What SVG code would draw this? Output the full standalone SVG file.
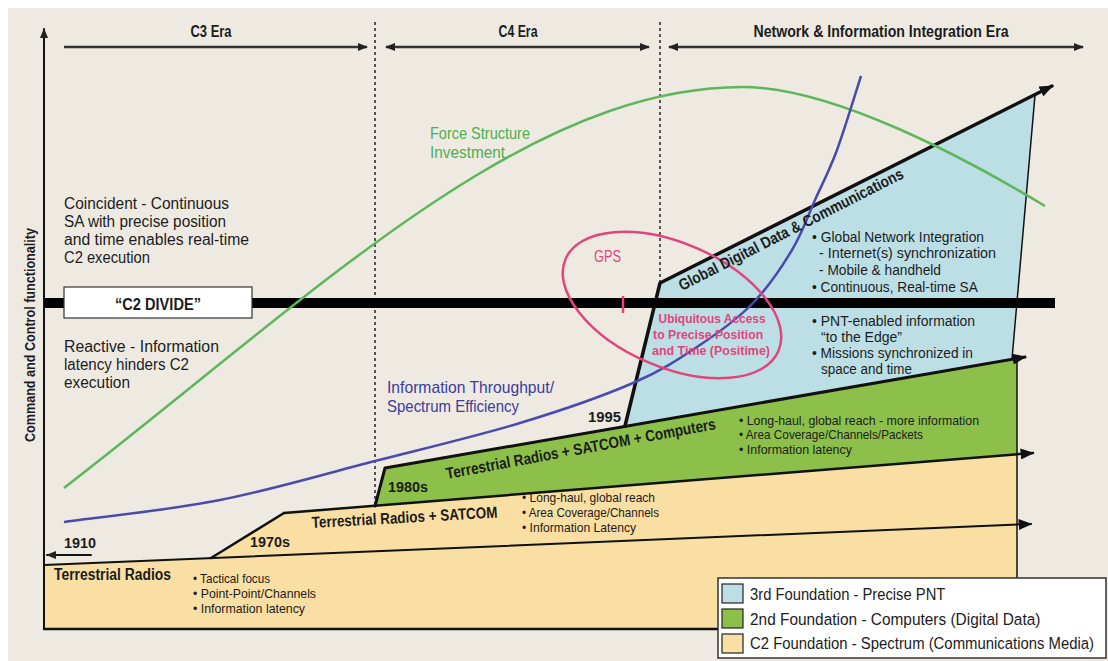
<svg xmlns="http://www.w3.org/2000/svg" width="1108" height="661" viewBox="0 0 1108 661">
<defs>
<style>
.f{font-family:"Liberation Sans Narrow","Liberation Sans","DejaVu Sans",sans-serif;fill:#1c1c1c}
.b{font-weight:bold}
.ln{fill:none;stroke:#111;stroke-linecap:round;stroke-linejoin:round}
.era{fill:none;stroke:#333;stroke-width:2.5}
.dot{fill:none;stroke:#555;stroke-width:2;stroke-dasharray:3 3}
.s13{font-size:13px}
.s16{font-size:16px}
.pink{fill:#e0457b}
</style>
<marker id="ah" viewBox="0 0 10 8" refX="9" refY="4" markerWidth="10" markerHeight="8" markerUnits="userSpaceOnUse" orient="auto-start-reverse"><path d="M0,0 L10,4 L0,8 z" fill="#222"/></marker>
<marker id="ahb" viewBox="0 0 10 8" refX="9" refY="4" markerWidth="14" markerHeight="11" markerUnits="userSpaceOnUse" orient="auto"><path d="M0,0 L10,4 L0,8 z" fill="#111"/></marker>
</defs>
<rect x="0" y="0" width="1108" height="661" fill="#ffffff"/>
<rect x="8" y="8" width="1100" height="653" fill="#eeeae2"/>

<g id="layers">
<polygon points="44,565 211,558 284,513 1017,454 1017,629 44,629" fill="#f9dfa3"/>
<polygon points="375,506 385,468 1017,359 1017,454" fill="#8cc04a"/>
<polygon points="625,426 660,283 1035,95 1012,359" fill="#bcdfe6"/>
</g>

<g id="connectors">
<line class="dot" x1="375" y1="22" x2="375" y2="505"/>
<line class="dot" x1="660" y1="22" x2="660" y2="283"/>
<line class="era" x1="64" y1="47" x2="367" y2="47" marker-end="url(#ah)"/>
<line class="era" x1="386" y1="47" x2="649" y2="47" marker-start="url(#ah)" marker-end="url(#ah)"/>
<line class="era" x1="669" y1="47" x2="1083" y2="47" marker-start="url(#ah)" marker-end="url(#ah)"/>
<line class="ln" x1="44" y1="629" x2="44" y2="29" stroke-width="2" marker-end="url(#ah)"/>
<line class="ln" x1="44" y1="629" x2="1018" y2="629" stroke-width="2.5"/>
<line class="ln" x1="1017" y1="359" x2="1017" y2="629" stroke="#333" stroke-width="1.5"/>
<line class="ln" x1="44" y1="565" x2="1031" y2="524" stroke-width="2" marker-end="url(#ahb)"/>
<line class="ln" x1="211" y1="558" x2="284" y2="513" stroke-width="2.5"/>
<line class="ln" x1="284" y1="513" x2="1033" y2="453" stroke-width="2.5" marker-end="url(#ahb)"/>
<polyline class="ln" points="375,506 385,468 1025,357" stroke-width="3" marker-end="url(#ahb)"/>
<polyline class="ln" points="625,426 660,283 1052,86" stroke-width="3.5" marker-end="url(#ahb)"/>
<line class="ln" x1="1035" y1="95" x2="1012" y2="359" stroke="#333" stroke-width="1.5"/>
<line class="ln" x1="91" y1="555" x2="47" y2="555" stroke-width="2" marker-end="url(#ah)"/>
</g>

<g id="c2-divide">
<line x1="44" y1="303" x2="1055" y2="303" stroke="#000" stroke-width="10"/>
<rect x="64" y="287" width="188" height="31" fill="#fff" stroke="#333" stroke-width="1.2"/>
<text class="f b" x="158" y="310" font-size="16" text-anchor="middle" textLength="86" lengthAdjust="spacingAndGlyphs">“C2 DIVIDE”</text>
</g>

<g id="curves">
<path d="M64,488 C314,295 523,87 743,87 C833,87 965,158 1045,206" fill="none" stroke="#5db75a" stroke-width="2.5"/>
<path d="M64,522 C90,518.3 168.2,510.2 220,500 C271.8,489.8 325,473.8 375,461 C425,448.2 477,436 520,423 C563,410 603,396 633,383 C663,370 680,358.3 700,345 C720,331.7 737.7,318.8 753,303 C768.3,287.2 781.7,267.2 792,250 C802.3,232.8 807.5,216.7 815,200 C822.5,183.3 829.3,170.7 837,150 C844.7,129.3 857,88.3 861,76" fill="none" stroke="#4a4aae" stroke-width="2.5"/>
</g>

<g id="gps">
<ellipse cx="672" cy="305" rx="116" ry="62" transform="rotate(23.4 672 305)" fill="none" stroke="#e0457b" stroke-width="2.5"/>
<line x1="623" y1="296" x2="623" y2="313" stroke="#e0457b" stroke-width="2.5"/>
<text class="f pink" x="594" y="262" font-size="16" textLength="27" lengthAdjust="spacingAndGlyphs">GPS</text>
<text class="f b pink" font-size="13.5" text-anchor="middle">
<tspan x="714" y="323" textLength="107" lengthAdjust="spacingAndGlyphs">Ubiquitous Access</tspan>
<tspan x="710" y="339" textLength="110" lengthAdjust="spacingAndGlyphs">to Precise Position</tspan>
<tspan x="711" y="355" textLength="118" lengthAdjust="spacingAndGlyphs">and Time (Positime)</tspan>
</text>
</g>

<g id="eras">
<text class="f b s16" x="211" y="37" text-anchor="middle" textLength="41" lengthAdjust="spacingAndGlyphs">C3 Era</text>
<text class="f b s16" x="518" y="37" text-anchor="middle" textLength="39" lengthAdjust="spacingAndGlyphs">C4 Era</text>
<text class="f b s16" x="881" y="37" text-anchor="middle" textLength="255" lengthAdjust="spacingAndGlyphs">Network &amp; Information Integration Era</text>
</g>

<g id="axis-label">
<text class="f b" font-size="15" transform="translate(35,335) rotate(-90)" text-anchor="middle" textLength="214" lengthAdjust="spacingAndGlyphs">Command and Control functionality</text>
</g>

<g id="left-notes">
<text class="f s16" x="64" y="209" textLength="165" lengthAdjust="spacingAndGlyphs">Coincident - Continuous</text>
<text class="f s16" x="64" y="227" textLength="162" lengthAdjust="spacingAndGlyphs">SA with precise position</text>
<text class="f s16" x="64" y="245" textLength="185" lengthAdjust="spacingAndGlyphs">and time enables real-time</text>
<text class="f s16" x="64" y="263" textLength="86" lengthAdjust="spacingAndGlyphs">C2 execution</text>
<text class="f s16" x="64" y="352" textLength="155" lengthAdjust="spacingAndGlyphs">Reactive - Information</text>
<text class="f s16" x="64" y="370" textLength="125" lengthAdjust="spacingAndGlyphs">latency hinders C2</text>
<text class="f s16" x="64" y="388" textLength="66" lengthAdjust="spacingAndGlyphs">execution</text>
</g>

<g id="force-structure">
<text class="f" x="430" y="139" font-size="17" style="fill:#4caf50" textLength="100" lengthAdjust="spacingAndGlyphs">Force Structure</text>
<text class="f" x="430" y="158" font-size="17" style="fill:#4caf50" textLength="75" lengthAdjust="spacingAndGlyphs">Investment</text>
</g>

<g id="info-throughput">
<text class="f" x="387" y="393" font-size="17" style="fill:#3c3c9c" textLength="167" lengthAdjust="spacingAndGlyphs">Information Throughput/</text>
<text class="f" x="387" y="412" font-size="17" style="fill:#3c3c9c" textLength="132" lengthAdjust="spacingAndGlyphs">Spectrum Efficiency</text>
</g>

<g id="foundation-c2">
<text class="f b s16" x="54" y="580" textLength="117" lengthAdjust="spacingAndGlyphs">Terrestrial Radios</text>
<text class="f s13" x="193" y="583" textLength="77" lengthAdjust="spacingAndGlyphs">• Tactical focus</text>
<text class="f s13" x="193" y="598" textLength="123" lengthAdjust="spacingAndGlyphs">• Point-Point/Channels</text>
<text class="f s13" x="193" y="613" textLength="112" lengthAdjust="spacingAndGlyphs">• Information latency</text>
<text class="f b" x="64" y="548" font-size="15" textLength="32" lengthAdjust="spacingAndGlyphs">1910</text>
<text class="f b" x="250" y="547" font-size="15" textLength="40" lengthAdjust="spacingAndGlyphs">1970s</text>
<text class="f b s16" transform="translate(312,528) rotate(-3.2)" textLength="186" lengthAdjust="spacingAndGlyphs">Terrestrial Radios + SATCOM</text>
<text class="f s13" x="522" y="502" textLength="133" lengthAdjust="spacingAndGlyphs">• Long-haul, global reach</text>
<text class="f s13" x="522" y="517" textLength="137" lengthAdjust="spacingAndGlyphs">• Area Coverage/Channels</text>
<text class="f s13" x="522" y="532" textLength="114" lengthAdjust="spacingAndGlyphs">• Information Latency</text>
</g>

<g id="foundation-2nd">
<text class="f b" x="388" y="492" font-size="15" textLength="40" lengthAdjust="spacingAndGlyphs">1980s</text>
<text class="f b s16" transform="translate(447,479) rotate(-10.5)" textLength="274" lengthAdjust="spacingAndGlyphs">Terrestrial Radios + SATCOM + Computers</text>
<text class="f s13" x="739" y="425" textLength="240" lengthAdjust="spacingAndGlyphs">• Long-haul, global reach - more information</text>
<text class="f s13" x="739" y="439" textLength="184" lengthAdjust="spacingAndGlyphs">• Area Coverage/Channels/Packets</text>
<text class="f s13" x="739" y="454" textLength="113" lengthAdjust="spacingAndGlyphs">• Information latency</text>
</g>

<g id="foundation-3rd">
<text class="f b" x="588" y="422" font-size="15" textLength="33" lengthAdjust="spacingAndGlyphs">1995</text>
<text class="f b s16" transform="translate(682,291) rotate(-27)" textLength="250" lengthAdjust="spacingAndGlyphs">Global Digital Data &amp; Communications</text>
<text class="f" font-size="15.5">
<tspan x="812" y="242" textLength="172" lengthAdjust="spacingAndGlyphs">• Global Network Integration</tspan>
<tspan x="819" y="258" textLength="177" lengthAdjust="spacingAndGlyphs">- Internet(s) synchronization</tspan>
<tspan x="819" y="275" textLength="122" lengthAdjust="spacingAndGlyphs">- Mobile &amp; handheld</tspan>
<tspan x="812" y="292" textLength="165" lengthAdjust="spacingAndGlyphs">• Continuous, Real-time SA</tspan>
<tspan x="812" y="326" textLength="163" lengthAdjust="spacingAndGlyphs">• PNT-enabled information</tspan>
<tspan x="821" y="342" textLength="81" lengthAdjust="spacingAndGlyphs">“to the Edge”</tspan>
<tspan x="812" y="358" textLength="161" lengthAdjust="spacingAndGlyphs">• Missions synchronized in</tspan>
<tspan x="821" y="374" textLength="91" lengthAdjust="spacingAndGlyphs">space and time</tspan>
</text>
</g>

<g id="legend">
<rect x="718" y="578" width="388" height="80" fill="#fff" stroke="#333" stroke-width="1.5"/>
<rect x="722" y="584" width="21" height="19" fill="#bcdfe6" stroke="#222" stroke-width="1.2"/>
<rect x="722" y="609" width="21" height="19" fill="#8cc04a" stroke="#222" stroke-width="1.2"/>
<rect x="722" y="634" width="21" height="19" fill="#f9dfa3" stroke="#222" stroke-width="1.2"/>
<text class="f" font-size="17" transform="translate(750,600) scale(0.88,1)" textLength="222" lengthAdjust="spacingAndGlyphs">3rd Foundation - Precise PNT</text>
<text class="f" font-size="17" transform="translate(750,625) scale(0.88,1)" textLength="330" lengthAdjust="spacingAndGlyphs">2nd Foundation - Computers (Digital Data)</text>
<text class="f" font-size="17" transform="translate(750,649) scale(0.88,1)" textLength="391" lengthAdjust="spacingAndGlyphs">C2 Foundation - Spectrum (Communications Media)</text>
</g>
</svg>
